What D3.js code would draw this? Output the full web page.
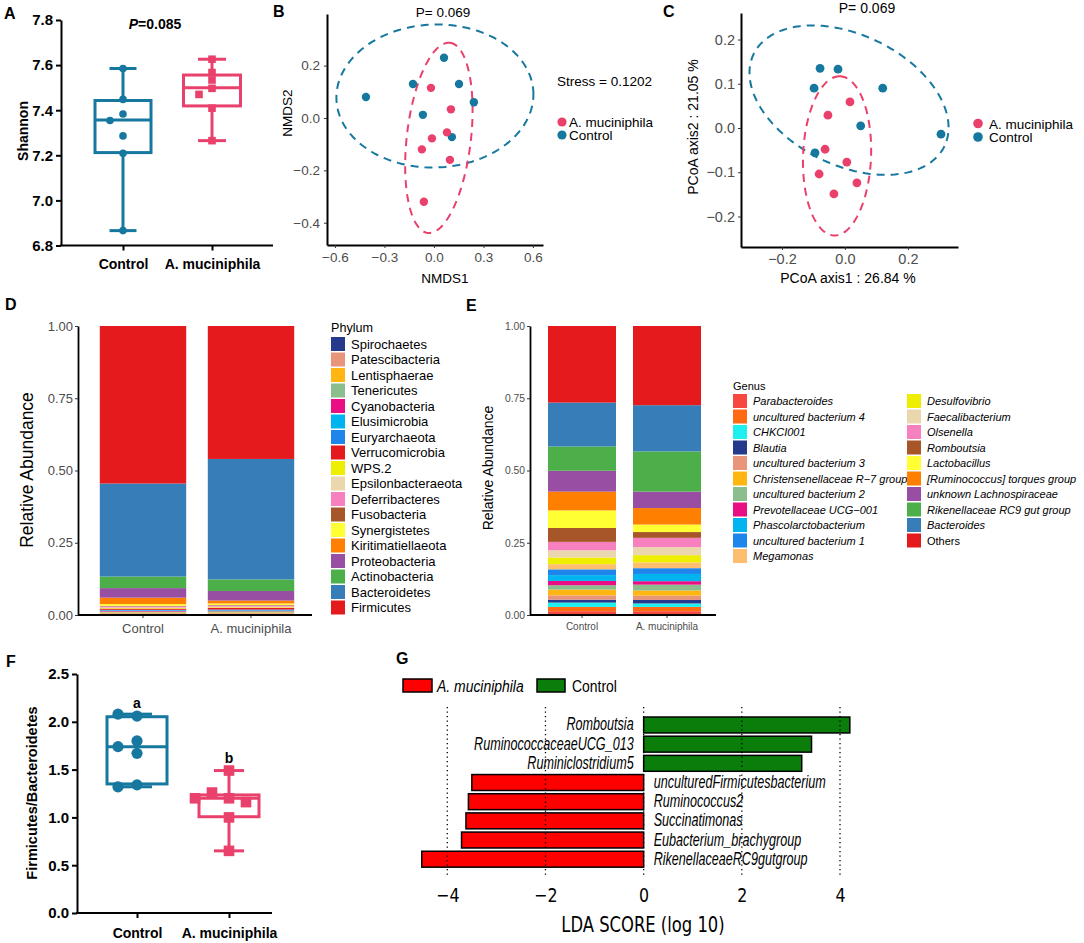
<!DOCTYPE html>
<html><head><meta charset="utf-8">
<script src="https://cdn.jsdelivr.net/npm/d3@7"></script>
<style>body{margin:0;background:#fff}svg{display:block}</style>
</head><body><svg id="c" width="1084" height="943"></svg>
<script>
// ---------------- DATA ----------------
const groups = ["Control", "A. muciniphila"];
// Panel A (Shannon)
const shannonTicks = [6.8, 7.0, 7.2, 7.4, 7.6, 7.8];
const shannonControl = [7.585, 7.448, 7.383, 7.354, 7.286, 7.209, 6.866];
const shannonAkk = [7.626, 7.567, 7.534, 7.497, 7.470, 7.409, 7.265];
const shannonBoxControl = [6.866, 7.212, 7.357, 7.443, 7.585]; // min,q1,median,q3,max
const shannonBoxAkk = [7.265, 7.419, 7.500, 7.556, 7.626];
// Panel B (NMDS)
const nmdsTicksX = [-0.6, -0.3, 0, 0.3, 0.6];
const nmdsTicksY = [-0.4, -0.2, 0, 0.2];
const nmdsCtrlX = [-0.412, -0.127, 0.061, 0.152, 0.242, -0.067, 0.109];
const nmdsCtrlY = [0.080, 0.130, 0.230, 0.130, 0.060, 0.012, -0.073];
const nmdsAkkX = [-0.018, 0.103, 0.079, -0.012, -0.073, 0.097, -0.061];
const nmdsAkkY = [0.115, 0.033, -0.055, -0.078, -0.120, -0.160, -0.320];
const nmdsEllCtrl = {c: [0.006, 0.084], u: [0.597, 0.006], v: [0, 0.273]};
const nmdsEllAkk = {c: [0.030, -0.076], u: [0.067, 0.363], v: [0.193, -0.014]};
// Panel C (PCoA)
const pcoaTicksX = [-0.2, 0, 0.2];
const pcoaTicksY = [-0.2, -0.1, 0, 0.1, 0.2];
const pcoaCtrlX = [-0.079, -0.022, -0.098, 0.120, 0.050, 0.305, -0.095];
const pcoaCtrlY = [0.135, 0.133, 0.090, 0.090, 0.005, -0.014, -0.056];
const pcoaAkkX = [0.016, -0.054, -0.063, 0.006, -0.082, 0.038, -0.035];
const pcoaAkkY = [0.059, 0.029, -0.048, -0.077, -0.104, -0.124, -0.149];
const pcoaEllCtrl = {c: [0.013, 0.063], u: [0.303, -0.104], v: [-0.090, -0.133]};
const pcoaEllAkk = {c: [-0.025, -0.063], u: [0.008, 0.180], v: [0.108, 0]};
// Panel D (phylum), legend order = stacking order bottom -> top
const abundTicks = [0, 0.25, 0.5, 0.75, 1];
const phyla = ["Spirochaetes","Patescibacteria","Lentisphaerae","Tenericutes","Cyanobacteria","Elusimicrobia","Euryarchaeota","Verrucomicrobia","WPS.2","Epsilonbacteraeota","Deferribacteres","Fusobacteria","Synergistetes","Kiritimatiellaeota","Proteobacteria","Actinobacteria","Bacteroidetes","Firmicutes"];
const phylumControl = [0.004,0.002,0.003,0.003,0.002,0.002,0.002,0.004,0.002,0.002,0.004,0.002,0.006,0.022,0.033,0.040,0.322,0.545];
const phylumAkk = [0.004,0.002,0.003,0.004,0.002,0.002,0.002,0.006,0.002,0.002,0.004,0.002,0.005,0.010,0.033,0.040,0.417,0.460];
// Panel E (genus), legend order (column-wise) = stacking order bottom -> top
const genera = ["Parabacteroides","uncultured bacterium 4","CHKCI001","Blautia","uncultured bacterium 3","Christensenellaceae R\u22127 group","uncultured bacterium 2","Prevotellaceae UCG\u2212001","Phascolarctobacterium","uncultured bacterium 1","Megamonas","Desulfovibrio","Faecalibacterium","Olsenella","Romboutsia","Lactobacillus","[Ruminococcus] torques group","unknown Lachnospiraceae","Rikenellaceae RC9 gut group","Bacteroides","Others"];
const genusControl = [0.013,0.015,0.015,0.010,0.015,0.020,0.015,0.015,0.020,0.020,0.018,0.023,0.025,0.029,0.048,0.061,0.065,0.072,0.084,0.152,0.265];
const genusAkk = [0.013,0.015,0.012,0.012,0.015,0.018,0.020,0.012,0.025,0.020,0.020,0.025,0.028,0.032,0.020,0.026,0.057,0.057,0.139,0.160,0.274];
// Panel F (F/B ratio)
const fbTicks = [0, 0.5, 1.0, 1.5, 2.0, 2.5];
const fbControl = [2.06, 1.80, 1.67, 1.74, 1.34, 1.32, 2.08];
const fbAkk = [1.20, 1.26, 1.16, 1.20, 1.49, 1.00, 0.65];
const fbBoxControl = [1.32, 1.35, 1.74, 2.053, 2.08];
const fbBoxAkk = [0.65, 1.007, 1.20, 1.235, 1.49];
const fbLetters = ["a", "b"];
// Panel G (LEfSe)
const ldaTaxa = ["Romboutsia","RuminococcaceaeUCG_013","Ruminiclostridium5","unculturedFirmicutesbacterium","Ruminococcus2","Succinatimonas","Eubacterium_brachygroup","RikenellaceaeRC9gutgroup"];
const ldaScores = [4.20, 3.42, 3.22, -3.50, -3.57, -3.62, -3.71, -4.52];
const ldaTicks = [-4, -2, 0, 2, 4];

// ---------------- STYLES ----------------
const phylumColors = ["#253a8a","#e8957a","#ffb612","#8cbd8c","#ea0e84","#00b4ef","#1e86ea","#e41a1c","#eeee00","#ebd7ad","#f781bf","#a65628","#ffff33","#ff7f00","#984ea3","#4daf4a","#377eb8","#e41a1c"];
const genusColors = ["#f6483e","#ff6a13","#1ef0f0","#253a8a","#e8957a","#ffb612","#8cbd8c","#ea0e84","#00b4ef","#1e86ea","#fdbf6f","#eeee00","#ebd7ad","#f781bf","#a65628","#ffff33","#ff7f00","#984ea3","#4daf4a","#377eb8","#e41a1c"];
const TEAL = "#16789e", PINK = "#e9406c";
const FF = "'Liberation Sans', Arial, Helvetica, sans-serif";
const DJ = "'DejaVu Sans', sans-serif";
const svg = d3.select("#c");

function styleAxis(sel, o) {
  sel.select(".domain").attr("stroke", o.line || "#000").attr("stroke-width", o.lw || 1.5);
  sel.selectAll(".tick line").attr("stroke", o.tick || "#000").attr("stroke-width", o.tw || o.lw || 1.5);
  sel.selectAll(".tick text").attr("fill", o.color || "#000").style("font-family", o.family || FF)
     .style("font-size", o.size + "px").style("font-weight", o.weight || "normal");
}
function label(x, y, t, o = {}) {
  const e = svg.append("text").attr("x", x).attr("y", y).attr("text-anchor", o.anchor || "start")
    .style("font-family", o.family || FF).style("font-size", (o.size || 13) + "px")
    .style("font-weight", o.weight || "normal").style("font-style", o.style || "normal")
    .attr("fill", o.fill || "#000").text(t);
  if (o.rotate) e.attr("transform", `rotate(-90,${x},${y})`);
  return e;
}
function stext(parent, x, y, t, o) {
  return parent.append("text").attr("transform", `translate(${x},${y}) scale(${o.sx},1)`)
    .attr("text-anchor", o.anchor || "start").style("font-family", o.family || FF)
    .style("font-size", o.size + "px").style("font-style", o.style || "normal").attr("fill", "#000").text(t);
}
function swarm(vals, ys, minD, step) {
  const placed = [];
  const offs = [0]; for (let i = 1; i < 8; i++) offs.push(-i * step, i * step);
  return vals.map(v => {
    const py = ys(v);
    for (const o of offs) {
      if (placed.every(p => Math.hypot(p.x - o, p.y - py) >= minD)) { placed.push({x: o, y: py}); return o; }
    }
    return 0;
  });
}
function prismBox(cx, b, ys, w, cap, color, sw) {
  const g = svg.append("g").attr("stroke", color).attr("stroke-width", sw).attr("fill", "none");
  g.append("line").attr("x1", cx).attr("x2", cx).attr("y1", ys(b[0])).attr("y2", ys(b[1]));
  g.append("line").attr("x1", cx).attr("x2", cx).attr("y1", ys(b[3])).attr("y2", ys(b[4]));
  [b[0], b[4]].forEach(v => g.append("line").attr("x1", cx - cap / 2).attr("x2", cx + cap / 2).attr("y1", ys(v)).attr("y2", ys(v)));
  g.append("rect").attr("x", cx - w / 2).attr("y", ys(b[3])).attr("width", w).attr("height", ys(b[1]) - ys(b[3]));
  g.append("line").attr("x1", cx - w / 2).attr("x2", cx + w / 2).attr("y1", ys(b[2])).attr("y2", ys(b[2]));
}
function ellipsePath(e, xs, ys) {
  const pts = d3.range(0, 2 * Math.PI, Math.PI / 90).map(t => [
    xs(e.c[0] + e.u[0] * Math.cos(t) + e.v[0] * Math.sin(t)),
    ys(e.c[1] + e.u[1] * Math.cos(t) + e.v[1] * Math.sin(t))]);
  return d3.line().curve(d3.curveLinearClosed)(pts);
}
const letter = (x, y, t) => label(x, y, t, {size: 16, weight: "bold"});

// ---------------- PANEL A ----------------
letter(4, 19, "A");
const yA = d3.scaleLinear().domain([6.8, 7.8]).range([245.5, 20]);
const xA = d3.scalePoint().domain(groups).range([123, 212]);
svg.append("g").attr("transform", "translate(61,0)")
  .call(d3.axisLeft(yA).tickValues(shannonTicks).tickSize(5).tickSizeOuter(0).tickPadding(3).tickFormat(d3.format(".1f")))
  .call(styleAxis, {lw: 2, size: 15, weight: "bold"});
const axA = svg.append("g").attr("transform", "translate(0,245.5)")
  .call(d3.axisBottom(xA).tickSize(5).tickSizeOuter(0).tickPadding(9))
  .call(styleAxis, {lw: 2, size: 14, weight: "bold"});
axA.select(".domain").remove();
svg.append("line").attr("x1", 60).attr("x2", 273).attr("y1", 245.5).attr("y2", 245.5).attr("stroke", "#000").attr("stroke-width", 2);
label(28, 131, "Shannon", {anchor: "middle", size: 14, weight: "bold", rotate: true});
const pA = label(155, 29, "", {anchor: "middle", size: 14, weight: "bold"});
pA.append("tspan").style("font-style", "italic").text("P");
pA.append("tspan").text("=0.085");
prismBox(xA("Control"), shannonBoxControl, yA, 56, 27, TEAL, 3);
prismBox(xA("A. muciniphila"), shannonBoxAkk, yA, 57, 28, PINK, 3);
swarm(shannonControl, yA, 7, 13).forEach((o, i) =>
  svg.append("circle").attr("cx", xA("Control") + o).attr("cy", yA(shannonControl[i])).attr("r", 3.8).attr("fill", TEAL));
swarm(shannonAkk, yA, 7, 13).forEach((o, i) =>
  svg.append("rect").attr("x", xA("A. muciniphila") + o - 3.8).attr("y", yA(shannonAkk[i]) - 3.8).attr("width", 7.6).attr("height", 7.6).attr("fill", PINK));

// ---------------- PANEL B ----------------
letter(273, 17, "B");
const xB = d3.scaleLinear().domain([-0.648, 0.661]).range([327, 543]);
const yB = d3.scaleLinear().domain([-0.485, 0.397]).range([245, 14]);
svg.append("path").attr("d", ellipsePath(nmdsEllCtrl, xB, yB)).attr("fill", "none").attr("stroke", TEAL).attr("stroke-width", 2).attr("stroke-dasharray", "8,6");
svg.append("path").attr("d", ellipsePath(nmdsEllAkk, xB, yB)).attr("fill", "none").attr("stroke", PINK).attr("stroke-width", 2).attr("stroke-dasharray", "8,6");
nmdsCtrlX.forEach((x, i) => svg.append("circle").attr("cx", xB(x)).attr("cy", yB(nmdsCtrlY[i])).attr("r", 4.2).attr("fill", TEAL));
nmdsAkkX.forEach((x, i) => svg.append("circle").attr("cx", xB(x)).attr("cy", yB(nmdsAkkY[i])).attr("r", 4.2).attr("fill", PINK));
svg.append("g").attr("transform", "translate(327,0)")
  .call(d3.axisLeft(yB).tickValues(nmdsTicksY).tickSize(3).tickSizeOuter(0).tickPadding(4).tickFormat(d3.format(".1f")))
  .call(styleAxis, {lw: 2, tick: "#333", tw: 1, size: 13.5, color: "#4d4d4d"});
svg.append("g").attr("transform", "translate(0,245)")
  .call(d3.axisBottom(xB).tickValues(nmdsTicksX).tickSize(3).tickSizeOuter(0).tickPadding(4).tickFormat(d3.format(".1f")))
  .call(styleAxis, {lw: 2, tick: "#333", tw: 1, size: 13.5, color: "#4d4d4d"});
label(445, 283, "NMDS1", {anchor: "middle", size: 13.5});
label(292, 113, "NMDS2", {anchor: "middle", size: 13.5, rotate: true});
label(443, 17, "P= 0.069", {anchor: "middle", size: 13.5});
label(557, 86, "Stress = 0.1202", {size: 13.5});
[[PINK, "A. muciniphila", 122], [TEAL, "Control", 135]].forEach(d => {
  svg.append("circle").attr("cx", 562).attr("cy", d[2]).attr("r", 4.6).attr("fill", d[0]);
  label(569, d[2] + 5, d[1], {size: 13.5});
});

// ---------------- PANEL C ----------------
letter(663, 17, "C");
const xC = d3.scaleLinear().domain([-0.330, 0.359]).range([741, 958]);
const yC = d3.scaleLinear().domain([-0.269, 0.260]).range([247, 13]);
svg.append("path").attr("d", ellipsePath(pcoaEllCtrl, xC, yC)).attr("fill", "none").attr("stroke", TEAL).attr("stroke-width", 2).attr("stroke-dasharray", "8,6");
svg.append("path").attr("d", ellipsePath(pcoaEllAkk, xC, yC)).attr("fill", "none").attr("stroke", PINK).attr("stroke-width", 2).attr("stroke-dasharray", "8,6");
pcoaCtrlX.forEach((x, i) => svg.append("circle").attr("cx", xC(x)).attr("cy", yC(pcoaCtrlY[i])).attr("r", 4.4).attr("fill", TEAL));
pcoaAkkX.forEach((x, i) => svg.append("circle").attr("cx", xC(x)).attr("cy", yC(pcoaAkkY[i])).attr("r", 4.4).attr("fill", PINK));
svg.append("g").attr("transform", "translate(741,0)")
  .call(d3.axisLeft(yC).tickValues(pcoaTicksY).tickSize(3).tickSizeOuter(0).tickPadding(3).tickFormat(d3.format(".1f")))
  .call(styleAxis, {lw: 2, tick: "#333", tw: 1, size: 14.5, color: "#4d4d4d"});
svg.append("g").attr("transform", "translate(0,247)")
  .call(d3.axisBottom(xC).tickValues(pcoaTicksX).tickSize(3).tickSizeOuter(0).tickPadding(4).tickFormat(d3.format(".1f")))
  .call(styleAxis, {lw: 2, tick: "#333", tw: 1, size: 14.5, color: "#4d4d4d"});
label(848, 283, "PCoA axis1 : 26.84 %", {anchor: "middle", size: 14});
label(698, 127, "PCoA axis2 : 21.05 %", {anchor: "middle", size: 14, rotate: true});
label(867, 13, "P= 0.069", {anchor: "middle", size: 14});
[[PINK, "A. muciniphila", 123.5], [TEAL, "Control", 137]].forEach(d => {
  svg.append("circle").attr("cx", 978).attr("cy", d[2]).attr("r", 4.8).attr("fill", d[0]);
  label(989, d[2] + 5, d[1], {size: 13.5});
});

// ---------------- STACKED BARS (D, E) ----------------
function stacked(opts) {
  const rows = groups.map((g, gi) => {
    const r = {group: g};
    opts.keys.forEach((k, ki) => r[k] = opts.values[gi][ki]);
    return r;
  });
  const series = d3.stack().keys(opts.keys)(rows);
  const y = d3.scaleLinear().domain([0, 1]).range([615, 326]);
  const x = d3.scaleBand().domain(groups).range(opts.xr).paddingInner(0.2).paddingOuter(0.1);
  const g = svg.append("g");
  series.forEach((s, si) => {
    s.forEach(d => {
      g.append("rect").attr("x", x(d.data.group)).attr("width", x.bandwidth())
        .attr("y", y(d[1])).attr("height", Math.max(0, y(d[0]) - y(d[1]))).attr("fill", opts.colors[si]);
    });
  });
  svg.append("g").attr("transform", `translate(${opts.ax},0)`)
    .call(d3.axisLeft(y).tickValues(abundTicks).tickSize(3).tickSizeOuter(0).tickPadding(2).tickFormat(d3.format(".2f")))
    .call(styleAxis, {lw: 1.8, tick: "#333", tw: 1, size: opts.tsize, color: "#4d4d4d"});
  const xa = svg.append("g").attr("transform", "translate(0,615)")
    .call(d3.axisBottom(x).tickSize(3).tickSizeOuter(0).tickPadding(opts.xpad))
    .call(styleAxis, {lw: 1.8, tick: "#333", tw: 1, size: opts.xsize, color: "#4d4d4d"});
  xa.select(".domain").remove();
  svg.append("line").attr("x1", opts.ax).attr("x2", opts.xend).attr("y1", 615).attr("y2", 615).attr("stroke", "#000").attr("stroke-width", 1.8);
}
letter(5, 310, "D");
stacked({keys: phyla, values: [phylumControl, phylumAkk], colors: phylumColors, xr: [89, 305], ax: 78, xend: 312, tsize: 13, xsize: 13, xpad: 6});
label(33, 470, "Relative Abundance", {anchor: "middle", size: 17.5, rotate: true});
label(331, 332, "Phylum", {size: 12.6});
phyla.forEach((p, i) => {
  const cy = 344 + i * 15.5;
  svg.append("rect").attr("x", 331).attr("y", cy - 7).attr("width", 14).attr("height", 14).attr("fill", phylumColors[i]);
  label(351, cy + 4.6, p, {size: 13});
});

letter(466, 311, "E");
stacked({keys: genera, values: [genusControl, genusAkk], colors: genusColors, xr: [539.5, 709.5], ax: 530, xend: 716, tsize: 10.3, xsize: 10, xpad: 5});
label(493, 468, "Relative Abundance", {anchor: "middle", size: 14, rotate: true});
label(733, 390, "Genus", {size: 11});
genera.forEach((gname, i) => {
  const col = i < 11 ? 0 : 1, row = i < 11 ? i : i - 11;
  const x0 = col === 0 ? 733 : 907, cy = 401 + row * 15.5;
  svg.append("rect").attr("x", x0).attr("y", cy - 7).attr("width", 14).attr("height", 14).attr("fill", genusColors[i]);
  label(x0 + 20, cy + 4, gname, {size: 11, style: gname === "Others" ? "normal" : "italic"});
});

// ---------------- PANEL F ----------------
letter(6, 667, "F");
const yF = d3.scaleLinear().domain([0, 2.5]).range([913, 674]);
const xF = d3.scalePoint().domain(groups).range([137, 229]);
svg.append("g").attr("transform", "translate(77,0)")
  .call(d3.axisLeft(yF).tickValues(fbTicks).tickSize(5).tickSizeOuter(0).tickPadding(3).tickFormat(d3.format(".1f")))
  .call(styleAxis, {lw: 2, size: 15, weight: "bold"});
const axF = svg.append("g").attr("transform", "translate(0,913)")
  .call(d3.axisBottom(xF).tickSize(5).tickSizeOuter(0).tickPadding(10))
  .call(styleAxis, {lw: 2, size: 14, weight: "bold"});
axF.select(".domain").remove();
svg.append("line").attr("x1", 76).attr("x2", 272).attr("y1", 913).attr("y2", 913).attr("stroke", "#000").attr("stroke-width", 2);
label(37, 793, "Firmicutes/Bacteroidetes", {anchor: "middle", size: 14.5, weight: "bold", rotate: true});
prismBox(xF("Control"), fbBoxControl, yF, 60, 30, TEAL, 3);
prismBox(xF("A. muciniphila"), fbBoxAkk, yF, 60, 30, PINK, 3);
swarm(fbControl, yF, 10, 19).forEach((o, i) =>
  svg.append("circle").attr("cx", xF("Control") + o).attr("cy", yF(fbControl[i])).attr("r", 5.6).attr("fill", TEAL));
swarm(fbAkk, yF, 10, 17).forEach((o, i) =>
  svg.append("rect").attr("x", xF("A. muciniphila") + o - 5.3).attr("y", yF(fbAkk[i]) - 5.3).attr("width", 10.6).attr("height", 10.6).attr("fill", PINK));
label(xF("Control"), 708, fbLetters[0], {anchor: "middle", size: 14, weight: "bold"});
label(xF("A. muciniphila"), 763, fbLetters[1], {anchor: "middle", size: 14, weight: "bold"});

// ---------------- PANEL G ----------------
letter(396, 664, "G");
const xG = d3.scaleLinear().domain([-4, 4]).range([447.3, 840]);
const yG = d3.scaleBand().domain(ldaTaxa).range([715.5, 868.7]).paddingInner(0.17).paddingOuter(0.08);
const gG = svg.append("g");
ldaTaxa.forEach((t, i) => {
  const v = ldaScores[i];
  gG.append("rect").attr("x", xG(Math.min(0, v))).attr("width", Math.abs(xG(v) - xG(0)))
    .attr("y", yG(t)).attr("height", yG.bandwidth())
    .attr("fill", v > 0 ? "#0b7d0b" : "#ff0000").attr("stroke", "#000").attr("stroke-width", 1.5);
  const cy = yG(t) + yG.bandwidth() / 2 + 5.5;
  if (v > 0) stext(gG, xG(0) - 10, cy, t, {size: 17.5, sx: 0.72, anchor: "end", style: "italic"});
  else stext(gG, xG(0) + 10, cy, t, {size: 17.5, sx: 0.72, anchor: "start", style: "italic"});
});
ldaTicks.forEach(t => gG.append("line").attr("x1", xG(t)).attr("x2", xG(t)).attr("y1", 707).attr("y2", 877)
  .attr("stroke", "#000").attr("stroke-width", 1.3).attr("stroke-dasharray", "1.3,3.2"));
const axG = svg.append("g").attr("transform", "translate(0,877)")
  .call(d3.axisBottom(xG).tickValues(ldaTicks).tickSize(0).tickPadding(11));
axG.select(".domain").remove();
axG.selectAll(".tick text").attr("fill", "#000").style("font-family", DJ).style("font-size", "20px").attr("transform", "scale(0.79,1)");
stext(svg, 643, 932, "LDA SCORE (log 10)", {size: 20.5, sx: 0.8, anchor: "middle", family: DJ});
svg.append("rect").attr("x", 403).attr("y", 679).attr("width", 29).attr("height", 13).attr("fill", "#ff0000").attr("stroke", "#000").attr("stroke-width", 1.5);
stext(svg, 437, 692, "A. muciniphila", {size: 17, sx: 0.82, style: "italic"});
svg.append("rect").attr("x", 537).attr("y", 679).attr("width", 28).attr("height", 13).attr("fill", "#0b7d0b").attr("stroke", "#000").attr("stroke-width", 1.5);
stext(svg, 572, 692, "Control", {size: 17, sx: 0.82});
</script></body></html>
